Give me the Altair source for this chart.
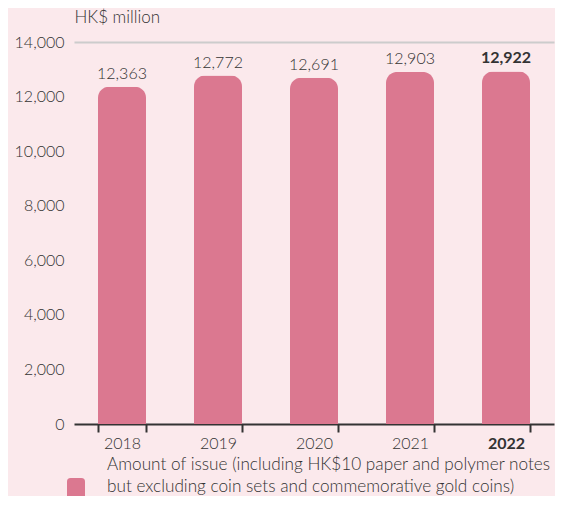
import altair as alt
import pandas as pd

years = ["2018", "2019", "2020", "2021", "2022"]
values = [12363, 12772, 12691, 12903, 12922]
legend_lines = [
    "Amount of issue (including HK$10 paper and polymer notes",
    "but excluding coin sets and commemorative gold coins)",
]
series_name = "Amount of issue"

df = pd.DataFrame({"year": years, "value": values, "series": [series_name] * len(years)})

FONT = "Lato"
TXT = "#333333"
BAR = "#db7890"
BG = "#fbe9ec"
FS = 16

base = alt.Chart(df)

bars = base.mark_bar(cornerRadiusTopLeft=11, cornerRadiusTopRight=11).encode(
    x=alt.X(
        "year:N",
        sort=years,
        scale=alt.Scale(paddingInner=0.5, paddingOuter=0.25),
        axis=alt.Axis(
            title=None,
            labelAngle=0,
            labelFont=FONT,
            labelFontSize=FS,
            labelColor=TXT,
            labelFontWeight=alt.expr("datum.value == '2022' ? 'bold' : 300"),
            labelPadding=3,
            domainColor=TXT,
            domainWidth=2,
            tickColor=TXT,
            tickWidth=2,
            tickSize=8,
            tickBand="extent",
        ),
    ),
    y=alt.Y(
        "value:Q",
        scale=alt.Scale(domain=[0, 14000], nice=False),
        axis=alt.Axis(
            title="HK$ million",
            titleAngle=0,
            titleAlign="left",
            titleBaseline="middle",
            titleX=0,
            titleY=-25,
            titleFont=FONT,
            titleFontSize=17,
            titleFontWeight=300,
            titleColor=TXT,
            values=list(range(0, 14001, 2000)),
            labelExpr="format(datum.value, ',')",
            labelFont=FONT,
            labelFontSize=FS,
            labelFontWeight=300,
            labelColor=TXT,
            labelPadding=10,
            ticks=False,
            domain=False,
            grid=True,
            gridColor="#cccccc",
            gridWidth=2,
            gridOpacity=alt.expr("datum.value == 14000 ? 1 : 0"),
        ),
    ),
    color=alt.Color(
        "series:N",
        scale=alt.Scale(range=[BAR]),
        legend=alt.Legend(
            title=legend_lines,
            titleOrient="right",
            titleAnchor="end",
            titleLineHeight=22,
            titleFont=FONT,
            titleFontSize=17.2,
            titleFontWeight=300,
            titleColor=TXT,
            titlePadding=22,
            titleLimit=700,
            orient="none",
            legendX=-7,
            legendY=436,
            padding=0,
            symbolType="M-1,-0.6 Q-1,-1 -0.6,-1 L0.6,-1 Q1,-1 1,-0.6 L1,1 L-1,1 Z",
            symbolSize=324,
            symbolStrokeWidth=0,
            symbolOpacity=1,
            labelExpr="''",
            labelOffset=0,
        ),
    ),
)

text_enc = dict(
    x=alt.X("year:N", sort=years),
    y=alt.Y("value:Q"),
    text=alt.Text("value:Q", format=","),
)

labels = base.mark_text(
    baseline="bottom", dy=-5, font=FONT, fontSize=FS, color=TXT, fontWeight=300
).encode(**text_enc).transform_filter("datum.year != '2022'")

labels_bold = base.mark_text(
    baseline="bottom", dy=-5, font=FONT, fontSize=FS, color=TXT, fontWeight="bold"
).encode(**text_enc).transform_filter("datum.year == '2022'")

chart = (
    alt.layer(bars, labels, labels_bold)
    .properties(width=480, height=382, background=BG, padding={"left": 6, "top": 0, "right": 1, "bottom": 0})
    .configure_view(stroke=None)
)

chart.save("out.html", embed_options={"renderer": "svg", "actions": False})
